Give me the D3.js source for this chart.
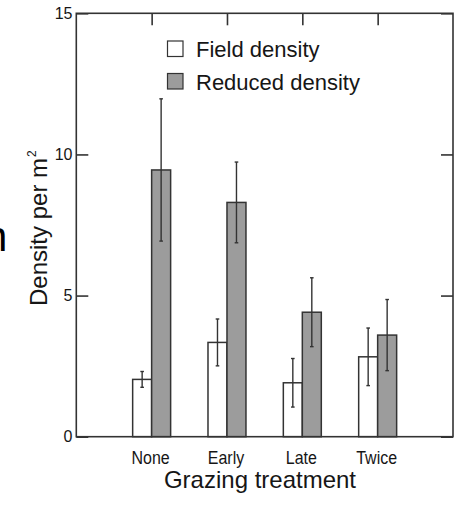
<!DOCTYPE html>
<html>
<head>
<meta charset="utf-8">
<script src="https://cdn.jsdelivr.net/npm/d3@7"></script>
<style>
  html, body { margin: 0; padding: 0; background: #fff; }
  svg { display: block; }
  text { font-family: "Liberation Sans", Arial, Helvetica, sans-serif; fill: #161616; }
</style>
</head>
<body>
<svg id="chart" width="459" height="505"></svg>
<script>
// Grazing treatments and the two density series (mean and standard error)
const treatments = ["None", "Early", "Late", "Twice"];
const fieldMean = [2.03, 3.34, 1.91, 2.83];
const fieldErr = [0.28, 0.83, 0.86, 1.02];
const reducedMean = [9.45, 8.30, 4.41, 3.60];
const reducedErr = [2.52, 1.43, 1.22, 1.26];
const yTicks = [0, 5, 10, 15];
const seriesNames = ["Field density", "Reduced density"];
const seriesFill = ["#ffffff", "#9c9c9c"];

const svg = d3.select("#chart");
const stroke = "#333";

const x = d3.scaleLinear().domain([0, treatments.length + 1]).range([76.3, 453]);
const y = d3.scaleLinear().domain([0, 15]).range([436.7, 13.3]);
const barW = x(0.252) - x(0);

const series = [
  { name: seriesNames[0], mean: fieldMean, err: fieldErr, fill: seriesFill[0], off: -1 },
  { name: seriesNames[1], mean: reducedMean, err: reducedErr, fill: seriesFill[1], off: 0 }
];

// Bars
series.forEach(s => {
  svg.append("g").selectAll("rect")
    .data(treatments)
    .join("rect")
    .attr("x", (d, i) => x(i + 1) + s.off * barW)
    .attr("y", (d, i) => y(s.mean[i]))
    .attr("width", barW)
    .attr("height", (d, i) => y(0) - y(s.mean[i]))
    .attr("fill", s.fill)
    .attr("stroke", stroke)
    .attr("stroke-width", 1.5);
});

// Error bars
series.forEach(s => {
  const g = svg.append("g").attr("stroke", stroke).attr("stroke-width", 1.4);
  treatments.forEach((d, i) => {
    const cx = x(i + 1) + s.off * barW + barW / 2;
    const lo = y(s.mean[i] - s.err[i]);
    const hi = y(s.mean[i] + s.err[i]);
    g.append("line").attr("x1", cx).attr("x2", cx).attr("y1", lo).attr("y2", hi);
    g.append("line").attr("x1", cx - 1.8).attr("x2", cx + 1.8).attr("y1", lo).attr("y2", lo);
    g.append("line").attr("x1", cx - 1.8).attr("x2", cx + 1.8).attr("y1", hi).attr("y2", hi);
  });
});

// Frame
svg.append("rect")
  .attr("x", x(0)).attr("y", y(15))
  .attr("width", x(5) - x(0)).attr("height", y(0) - y(15))
  .attr("fill", "none").attr("stroke", stroke).attr("stroke-width", 1.6);

// Left axis: inward ticks, labels outside
const leftAxis = svg.append("g")
  .attr("transform", `translate(${x(0)},0)`)
  .call(d3.axisRight(y).tickValues(yTicks).tickSize(12).tickFormat(""));
leftAxis.select(".domain").remove();
leftAxis.selectAll(".tick line").attr("stroke", stroke).attr("stroke-width", 1.6);

svg.append("g").selectAll("text")
  .data(yTicks)
  .join("text")
  .attr("x", 72.5)
  .attr("y", d => y(d))
  .attr("dy", "0.35em")
  .attr("text-anchor", "end")
  .attr("font-size", 16)
  .text(d => d);

// Right axis: inward ticks
const rightAxis = svg.append("g")
  .attr("transform", `translate(${x(5)},0)`)
  .call(d3.axisLeft(y).tickValues(yTicks).tickSize(12).tickFormat(""));
rightAxis.select(".domain").remove();
rightAxis.selectAll(".tick line").attr("stroke", stroke).attr("stroke-width", 1.6);

// Top axis: inward ticks at treatment positions
const topAxis = svg.append("g")
  .attr("transform", `translate(0,${y(15)})`)
  .call(d3.axisBottom(x).tickValues([1, 2, 3, 4]).tickSize(12).tickFormat(""));
topAxis.select(".domain").remove();
topAxis.selectAll(".tick line").attr("stroke", stroke).attr("stroke-width", 1.6);

// Category labels (slightly tall lettering)
svg.append("g").selectAll("text")
  .data(treatments)
  .join("text")
  .attr("transform", (d, i) => `translate(${x(i + 1) - 1},464) scale(1,1.18)`)
  .attr("text-anchor", "middle")
  .attr("font-size", 16)
  .text(d => d);

// Axis titles
svg.append("text")
  .attr("x", 260)
  .attr("y", 487.5)
  .attr("text-anchor", "middle")
  .attr("font-size", 24)
  .text("Grazing treatment");

const yt = svg.append("text")
  .attr("transform", "translate(46.5,306) rotate(-90)")
  .attr("text-anchor", "start")
  .attr("font-size", 24);
yt.append("tspan").text("Density per m");
yt.append("tspan").attr("font-size", 12).attr("dy", "-0.9em").attr("dx", "1").text("2");

// Legend
const legend = svg.append("g");
series.forEach((s, i) => {
  const base = 57 + i * 32.5;
  legend.append("rect")
    .attr("x", 167.5).attr("y", base - 16)
    .attr("width", 15.5).attr("height", 15.5)
    .attr("fill", s.fill).attr("stroke", stroke).attr("stroke-width", 1.2);
  legend.append("text")
    .attr("x", 196).attr("y", base)
    .attr("font-size", 22)
    .text(s.name);
});

// Edge of a neighbouring label
svg.append("text")
  .attr("x", -16).attr("y", 251)
  .attr("font-size", 42)
  .style("fill", "#000")
  .text("n");
</script>
</body>
</html>
